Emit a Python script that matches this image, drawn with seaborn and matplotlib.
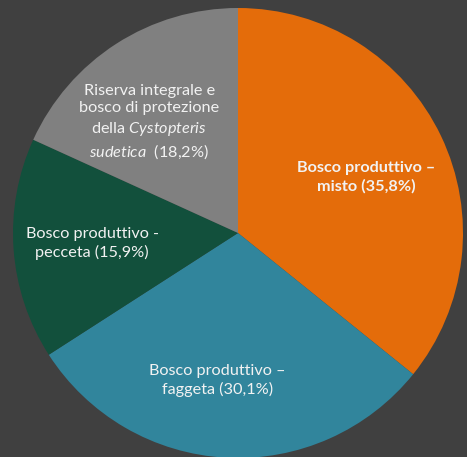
import numpy as np
import matplotlib
matplotlib.use("Agg")
import matplotlib.pyplot as plt
import seaborn as sns

# dati della torta (senso orario partendo da ore 12)
categorie = [
    "Bosco produttivo –\nmisto (35,8%)",
    "Bosco produttivo –\nfaggeta (30,1%)",
    "Bosco produttivo -\npecceta (15,9%)",
    "Riserva integrale e\nbosco di protezione\ndella $\\it{Cystopteris}$\n$\\it{sudetica}$  (18,2%)",
]
percentuali = [35.8, 30.1, 15.9, 18.2]
colori = ["#E46C0A", "#31859C", "#12503C", "#808080"]

sns.set_theme(style="dark")
plt.rcParams["font.family"] = ["Lato", "DejaVu Sans"]
plt.rcParams["mathtext.fontset"] = "custom"
plt.rcParams["mathtext.it"] = "Lato:italic"
plt.rcParams["mathtext.rm"] = "Lato"

sfondo = "#404040"
fig = plt.figure(figsize=(4.67, 4.57), dpi=100, facecolor=sfondo)
ax = fig.add_axes([13 / 467, -1 / 457, 450 / 467, 450 / 457])
ax.set_facecolor(sfondo)

wedges, _ = ax.pie(percentuali, colors=colori, startangle=90,
                   counterclock=False, radius=1,
                   wedgeprops=dict(linewidth=0))

# correzioni di angolo / distanza per le etichette
spost_angolo = [-2, -5, 0, 6]
distanze = [0.62, 0.66, 0.65, 0.63]
for w, lab, da, d, i in zip(wedges, categorie, spost_angolo, distanze, range(4)):
    ang = np.deg2rad((w.theta1 + w.theta2) / 2 + da)
    ax.text(d * np.cos(ang), d * np.sin(ang), lab,
            ha="center", va="center", multialignment="center",
            color="#F2F2F2", fontsize=11.7, linespacing=1.33,
            fontweight="bold" if i == 0 else "normal")

ax.set_xlim(-1, 1)
ax.set_ylim(-1, 1)
ax.set_aspect("equal")
ax.axis("off")

fig.savefig("out.png", dpi=100, facecolor=sfondo)
